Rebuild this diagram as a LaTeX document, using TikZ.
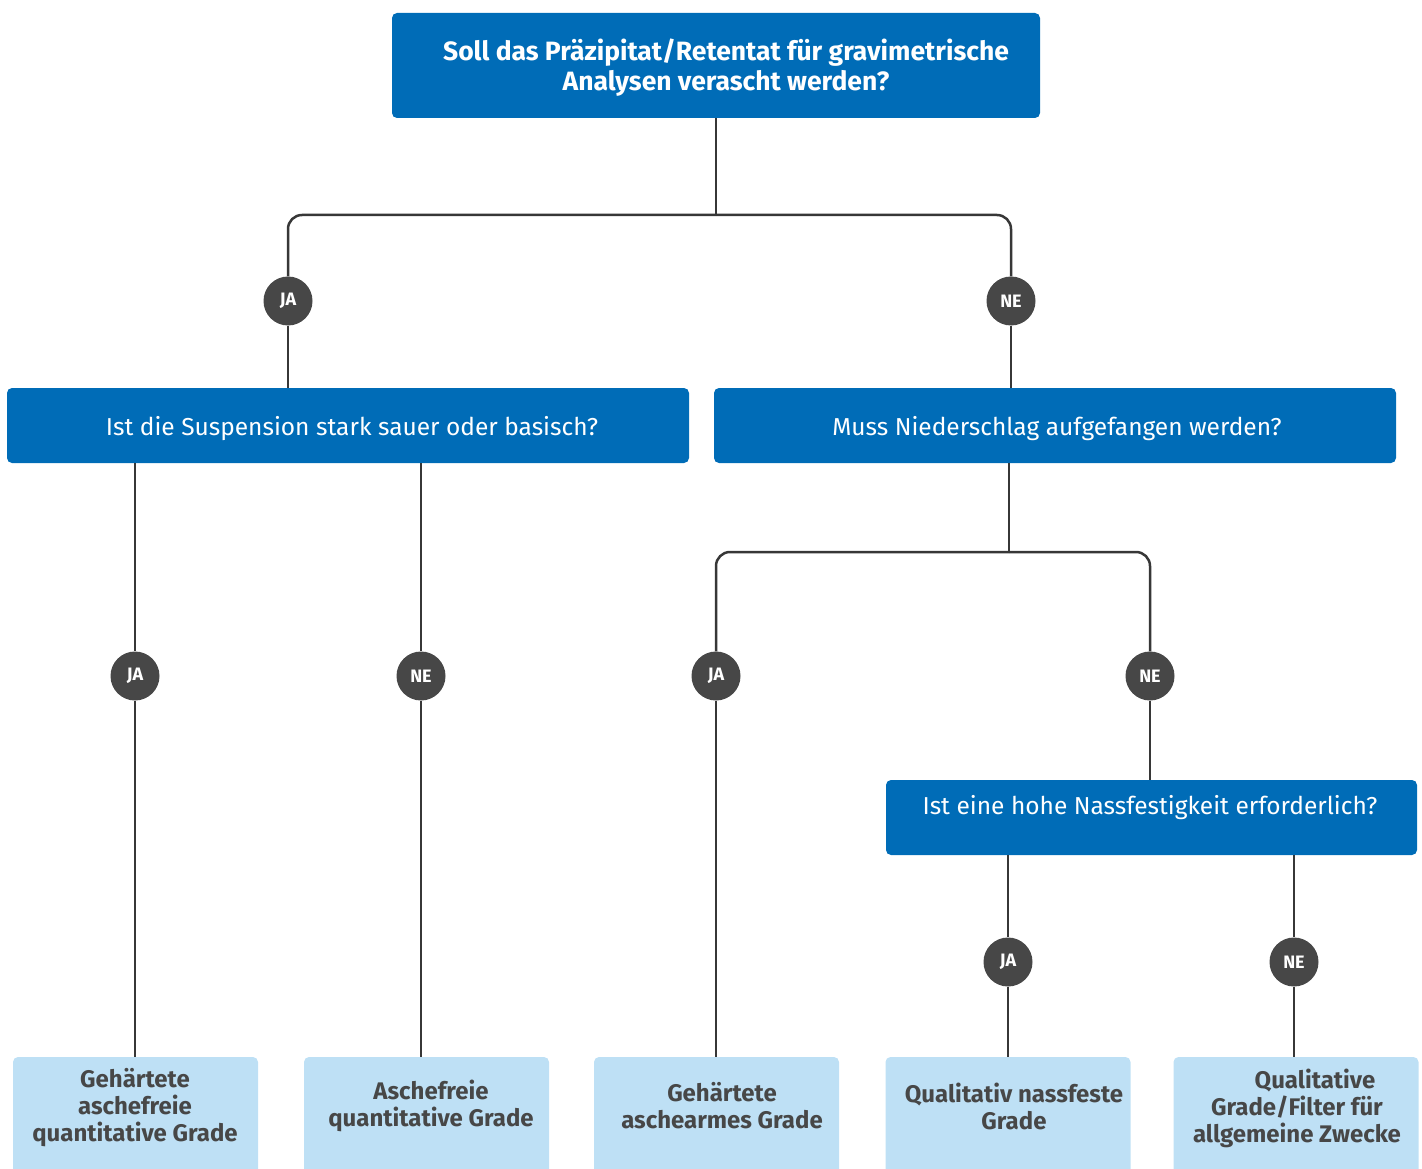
\documentclass[tikz,border=0pt]{standalone}
\usepackage{fontspec}
\setmainfont{Fira Sans}
\definecolor{qblue}{RGB}{0,108,183}
\definecolor{leafblue}{RGB}{190,224,245}
\definecolor{dgray}{RGB}{71,71,71}
\definecolor{lgray}{RGB}{55,55,55}
\begin{document}
\begin{tikzpicture}[x=1pt,y=-1pt,
  qbox/.style={fill=qblue, rounded corners=5pt, inner sep=0pt},
  leafbox/.style={fill=leafblue, rounded corners=5pt, inner sep=0pt, minimum width=245pt, minimum height=130pt},
  qtext/.style={text=white, align=center, inner sep=0pt, font=\fontsize{24.5}{30}\selectfont},
  toptext/.style={text=white, align=center, inner sep=0pt, font=\fontsize{26.5}{30}\selectfont\bfseries},
  leaftext/.style={text=dgray, align=center, inner sep=0pt, font=\fontsize{24}{27}\selectfont\bfseries},
  yn/.style={circle, fill=dgray, minimum size=49pt, inner sep=0pt, text=white, font=\fontsize{18}{18}\selectfont\bfseries},
  conn/.style={draw=lgray, line width=2.5pt},
  fork/.style={conn, rounded corners=14pt}]
\useasboundingbox (0,0) rectangle (1422,1169);
\clip (0,0) rectangle (1422,1169);
% question boxes
\node[qbox, minimum width=648pt, minimum height=105pt] (top) at (716,65.5) {};
\node[toptext] (topT) at (726,68) {Soll das Präzipitat/Retentat für gravimetrische\\Analysen verascht werden?};
\node[qbox, minimum width=682pt, minimum height=75pt] (L1) at (348,425.5) {};
\node[qtext] (L1T) at (352,429) {Ist die Suspension stark sauer oder basisch?};
\node[qbox, minimum width=682pt, minimum height=75pt] (R1) at (1055,425.5) {};
\node[qtext] (R1T) at (1057,429) {Muss Niederschlag aufgefangen werden?};
\node[qbox, minimum width=531pt, minimum height=75pt] (R2) at (1151.5,817.5) {};
\node[qtext] (R2T) at (1150,808) {Ist eine hohe Nassfestigkeit erforderlich?};
% answer circles
\node[yn] (ja1) at (288,301) {JA};
\node[yn] (ne1) at (1011,301) {NE};
\node[yn] (ja2) at (135,676) {JA};
\node[yn] (ne2) at (421,676) {NE};
\node[yn] (ja3) at (716,676) {JA};
\node[yn] (ne3) at (1150,676) {NE};
\node[yn] (ja4) at (1008,962) {JA};
\node[yn] (ne4) at (1294,962) {NE};
% leaf boxes
\node[leafbox] (B1) at (135.5,1122) {};
\node[leafbox] (B2) at (426.5,1122) {};
\node[leafbox] (B3) at (716.5,1122) {};
\node[leafbox] (B4) at (1008,1122) {};
\node[leafbox] (B5) at (1296,1122) {};
\node[leaftext] (B1T) at (135,1108) {Gehärtete\\aschefreie\\quantitative Grade};
\node[leaftext] (B2T) at (431,1106) {Aschefreie\\quantitative Grade};
\node[leaftext] (B3T) at (722,1106) {Gehärtete\\aschearmes Grade};
\node[leaftext] (B4T) at (1014,1106) {Qualitativ nassfeste\\Grade};
\node[leaftext] (B5T) at (1297,1108) {\hspace*{36pt}Qualitative\\Grade/Filter für\\allgemeine Zwecke};
% connectors
\coordinate (f1) at (716,215);
\coordinate (f2) at (1009,552);
\draw[conn] (top.south) -- (f1);
\draw[fork] (f1) -| (ja1.north);
\draw[fork] (f1) -| (ne1.north);
\draw[conn] (ja1.south) -- (ja1.south |- L1.north);
\draw[conn] (ne1.south) -- (ne1.south |- R1.north);
\draw[conn] (L1.south -| ja2) -- (ja2.north);
\draw[conn] (ja2.south) -- (ja2.south |- B1.north);
\draw[conn] (L1.south -| ne2) -- (ne2.north);
\draw[conn] (ne2.south) -- (ne2.south |- B2.north);
\draw[conn] (R1.south -| f2) -- (f2);
\draw[fork] (f2) -| (ja3.north);
\draw[fork] (f2) -| (ne3.north);
\draw[conn] (ja3.south) -- (ja3.south |- B3.north);
\draw[conn] (ne3.south) -- (ne3.south |- R2.north);
\draw[conn] (R2.south -| ja4) -- (ja4.north);
\draw[conn] (ja4.south) -- (ja4.south |- B4.north);
\draw[conn] (R2.south -| ne4) -- (ne4.north);
\draw[conn] (ne4.south) -- (ne4.south |- B5.north);
\end{tikzpicture}
\end{document}
